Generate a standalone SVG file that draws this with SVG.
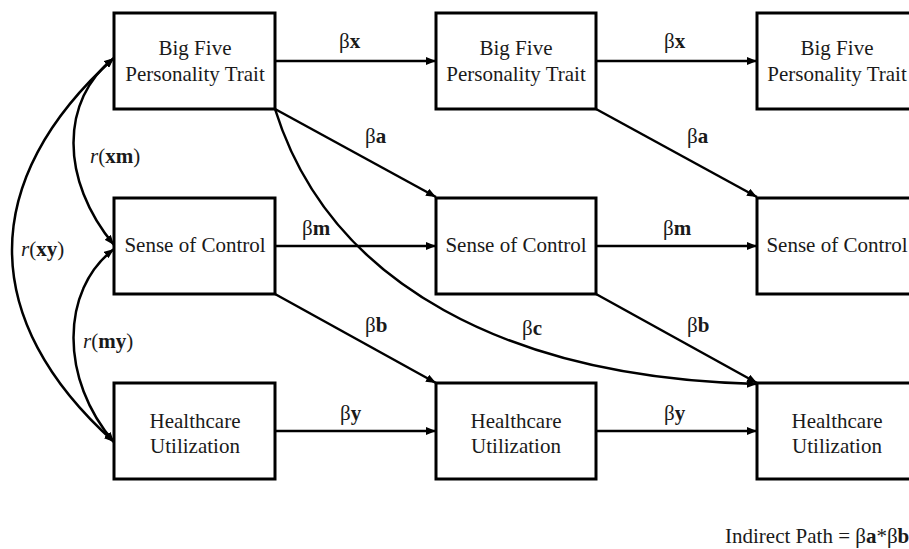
<svg xmlns="http://www.w3.org/2000/svg" width="909" height="549" viewBox="0 0 909 549">
<defs>
<marker id="ah" viewBox="0 0 10 8" refX="10" refY="4" markerWidth="10" markerHeight="8" markerUnits="userSpaceOnUse" orient="auto-start-reverse">
<path d="M0,0 L10,4 L0,8 z" fill="#000"/>
</marker>
<style>
.box{fill:#fff;stroke:#000;stroke-width:3}
.t{font-family:'Liberation Serif','Times New Roman',serif;font-size:21px;fill:#1a1a1a;text-anchor:middle}
.l{font-family:'Liberation Serif','Times New Roman',serif;font-size:21px;fill:#1a1a1a}
.b{font-weight:bold}
.i{font-style:italic}
.c{fill:none;stroke:#000;stroke-width:2.5;marker-end:url(#ah)}
.d{fill:none;stroke:#000;stroke-width:2.5;marker-start:url(#ah);marker-end:url(#ah)}
</style>
</defs>
<rect width="909" height="549" fill="#fff"/>
<g id="connectors">
<line class="c" x1="275" y1="61" x2="436" y2="61"/>
<line class="c" x1="596" y1="61" x2="757" y2="61"/>
<line class="c" x1="275" y1="246" x2="436" y2="246"/>
<line class="c" x1="596" y1="246" x2="757" y2="246"/>
<line class="c" x1="275" y1="431" x2="436" y2="431"/>
<line class="c" x1="596" y1="431" x2="757" y2="431"/>
<line class="c" x1="275" y1="109" x2="436" y2="197"/>
<line class="c" x1="596" y1="109" x2="757" y2="197"/>
<line class="c" x1="275" y1="294" x2="436" y2="383"/>
<line class="c" x1="596" y1="294" x2="757" y2="383"/>
<path class="c" d="M275,109 C330,285 510,378 757,384"/>
<path class="d" d="M114,58 C-22,180 -22,320 114,442"/>
<path class="d" d="M114,58 C60,100 60,180 114,245"/>
<path class="d" d="M114,249 C60,290 60,380 114,442"/>
</g>
<g id="n1"><rect class="box" x="114" y="13" width="161" height="96"/><text class="t" x="195" y="55">Big Five</text><text class="t" x="195" y="81">Personality Trait</text></g>
<g id="n2"><rect class="box" x="436" y="13" width="160" height="96"/><text class="t" x="516" y="55">Big Five</text><text class="t" x="516" y="81">Personality Trait</text></g>
<g id="n3"><rect class="box" x="757" y="13" width="161" height="96"/><text class="t" x="837" y="55">Big Five</text><text class="t" x="837" y="81">Personality Trait</text></g>
<g id="n4"><rect class="box" x="114" y="198" width="161" height="96"/><text class="t" x="195" y="252">Sense of Control</text></g>
<g id="n5"><rect class="box" x="436" y="198" width="160" height="96"/><text class="t" x="516" y="252">Sense of Control</text></g>
<g id="n6"><rect class="box" x="757" y="198" width="161" height="96"/><text class="t" x="837" y="252">Sense of Control</text></g>
<g id="n7"><rect class="box" x="114" y="383" width="161" height="96"/><text class="t" x="195" y="428">Healthcare</text><text class="t" x="195" y="453">Utilization</text></g>
<g id="n8"><rect class="box" x="436" y="383" width="160" height="96"/><text class="t" x="516" y="428">Healthcare</text><text class="t" x="516" y="453">Utilization</text></g>
<g id="n9"><rect class="box" x="757" y="383" width="161" height="96"/><text class="t" x="837" y="428">Healthcare</text><text class="t" x="837" y="453">Utilization</text></g>
<g id="labels">
<text class="l" x="339" y="48">β<tspan class="b">x</tspan></text>
<text class="l" x="664" y="48">β<tspan class="b">x</tspan></text>
<text class="l" x="365" y="143">β<tspan class="b">a</tspan></text>
<text class="l" x="687" y="143">β<tspan class="b">a</tspan></text>
<text class="l" x="302" y="235">β<tspan class="b">m</tspan></text>
<text class="l" x="663" y="235">β<tspan class="b">m</tspan></text>
<text class="l" x="365" y="332">β<tspan class="b">b</tspan></text>
<text class="l" x="687" y="332">β<tspan class="b">b</tspan></text>
<text class="l" x="522" y="335">β<tspan class="b">c</tspan></text>
<text class="l" x="340" y="420">β<tspan class="b">y</tspan></text>
<text class="l" x="664" y="420">β<tspan class="b">y</tspan></text>
<text class="l" x="90" y="163"><tspan class="i">r</tspan>(<tspan class="b">xm</tspan>)</text>
<text class="l" x="21" y="256"><tspan class="i">r</tspan>(<tspan class="b">xy</tspan>)</text>
<text class="l" x="83" y="348"><tspan class="i">r</tspan>(<tspan class="b">my</tspan>)</text>
<text class="l" x="725" y="543">Indirect Path = β<tspan class="b">a</tspan>*β<tspan class="b">b</tspan></text>
</g>
</svg>
